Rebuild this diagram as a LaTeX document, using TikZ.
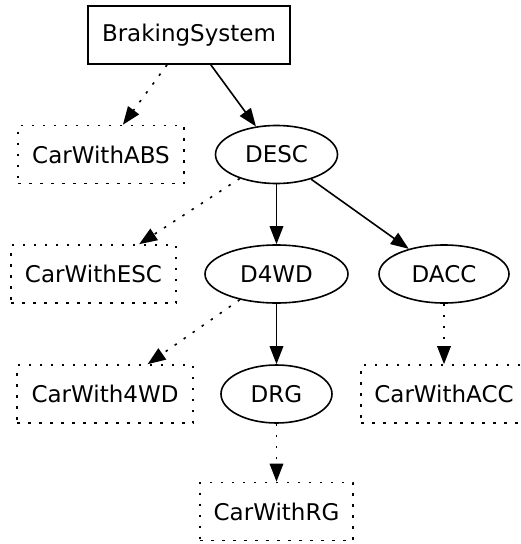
\documentclass[tikz,border=0pt]{standalone}
\usepackage{fontspec}
\setmainfont{DejaVu Sans}
\usetikzlibrary{arrows.meta,shapes.geometric}
\begin{document}
\begin{tikzpicture}[x=1pt,y=-1pt,
  every node/.style={font=\fontsize{23}{27}\selectfont, inner sep=0pt, line width=1.6pt},
  solidbox/.style={draw, rectangle, minimum height=58pt},
  dotbox/.style={draw, rectangle, minimum height=58pt, dash pattern=on 2.5pt off 8.5pt},
  oval/.style={draw, ellipse, minimum height=58pt},
  link/.style={line width=1.6pt, -{Triangle[length=18pt,width=13.5pt]}},
  dotlink/.style={link, dash pattern=on 2.5pt off 8.5pt}]
\clip (0,0) rectangle (521,544);
\useasboundingbox (0,0) rectangle (521,544);
\node[solidbox, minimum width=202pt] (bs) at (189,35) {BrakingSystem};
\node[dotbox, minimum width=166pt] (abs) at (101,154.5) {CarWithABS};
\node[oval, minimum width=122pt] (desc) at (276.5,154.5) {DESC};
\node[dotbox, minimum width=165pt] (esc) at (93.5,274) {CarWithESC};
\node[oval, minimum width=143pt] (d4wd) at (276.5,274) {D4WD};
\node[oval, minimum width=130pt] (dacc) at (444,274) {DACC};
\node[dotbox, minimum width=176pt] (c4wd) at (105,394) {CarWith4WD};
\node[oval, minimum width=111pt] (drg) at (276.5,394) {DRG};
\node[dotbox, minimum width=166pt] (acc) at (444,394) {CarWithACC};
\node[dotbox, minimum width=153pt] (rg) at (276.5,511.5) {CarWithRG};
\draw[dotlink] (bs) -- (abs);
\draw[link] (bs) -- (desc);
\draw[dotlink] (desc) -- (esc);
\draw[link] (desc) -- (d4wd);
\draw[link] (desc) -- (dacc);
\draw[dotlink] (d4wd) -- (c4wd);
\draw[link] (d4wd) -- (drg);
\draw[dotlink] (dacc) -- (acc);
\draw[dotlink] (drg) -- (rg);
\end{tikzpicture}
\end{document}
